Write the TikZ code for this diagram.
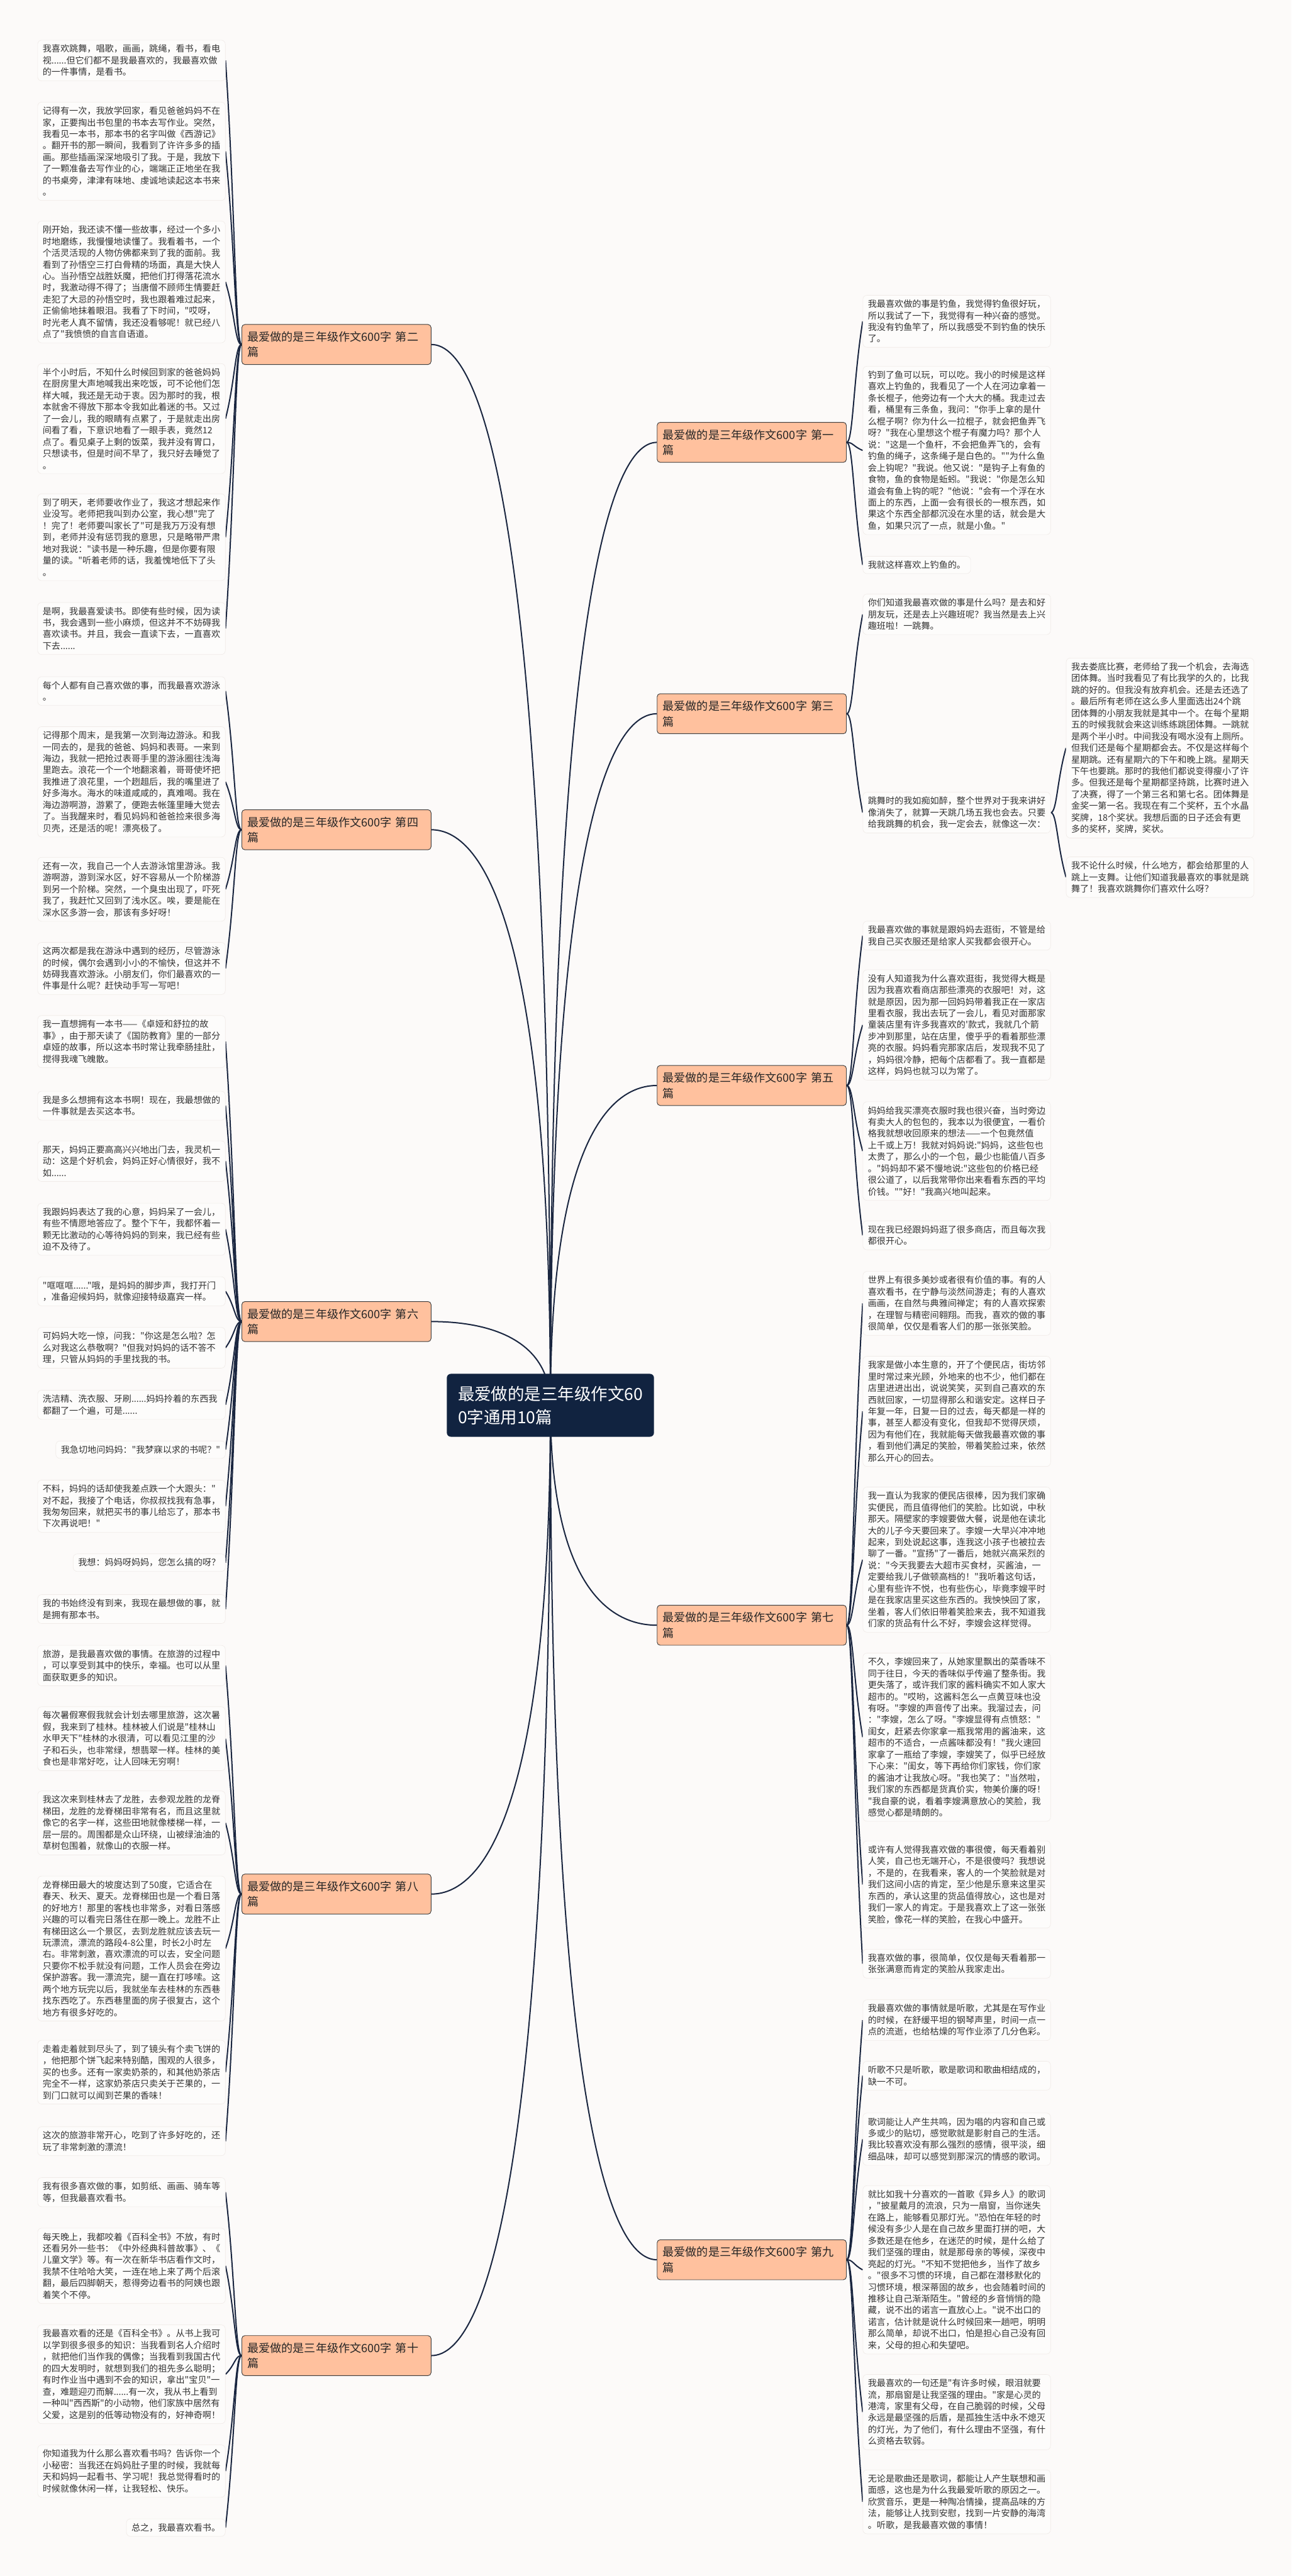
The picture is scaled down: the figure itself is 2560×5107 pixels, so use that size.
\documentclass[tikz,border=0pt]{standalone}
\usepackage{fontspec}
\newfontfamily\cjk{Noto Sans CJK SC}
\usetikzlibrary{calc,backgrounds}

\definecolor{paper}{RGB}{252,250,249}
\definecolor{notefill}{RGB}{253,252,251}
\definecolor{noteline}{RGB}{240,235,232}
\definecolor{notetext}{RGB}{51,51,51}
\definecolor{peach}{RGB}{255,193,158}
\definecolor{navy}{RGB}{17,35,64}
\definecolor{wire}{RGB}{26,38,64}

\begin{document}
\begin{tikzpicture}[x=0.5pt,y=-0.5pt,
  centre/.style={fill=navy,text=white,rounded corners=4pt,align=left,
    inner xsep=11pt,inner ysep=12pt,font=\cjk\fontsize{16.5pt}{23pt}\selectfont},
  topic/.style={draw=black!75,line width=0.6pt,fill=peach,rounded corners=3pt,
    text width=176.5pt,align=left,inner xsep=5.5pt,inner ysep=7pt,text=black!85,
    font=\cjk\fontsize{11.3pt}{15.2pt}\selectfont},
  shortnote/.style={draw=noteline,fill=notefill,rounded corners=4pt,align=left,
    inner xsep=5pt,inner ysep=4.5pt,text=notetext,
    font=\cjk\fontsize{8.8pt}{11.5pt}\selectfont},
  note/.style={shortnote,text width=176pt},
  link/.style={draw=wire,line width=1.25pt},
  trunk/.style={to path={let \p1=(\tikztostart),\p2=(\tikztotarget) in
    .. controls (\x1,{\y2+0.2*(\y1-\y2)}) and ({\x2+0.47*(\x1-\x2)},\y2) .. (\tikztotarget)}},
  twig/.style={to path={let \p1=(\tikztostart),\p2=(\tikztotarget) in
    .. controls ({\x2+0.6*(\x1-\x2)},\y1) and ({\x2+0.6*(\x1-\x2)},{\y2+0.5*(\y1-\y2)}) .. (\tikztotarget)}}]

  \useasboundingbox (0,0) rectangle (2560,5107);

  % centre and the ten essays
  \node[centre] (mid) at (1091,2786) {最爱做的是三年级作文60\\0字通用10篇};

  \node[topic,anchor=west] (p1) at (1302,877) {最爱做的是三年级作文600字 第一\\篇};
  \node[topic,anchor=east] (p2) at (855,683) {最爱做的是三年级作文600字 第二\\篇};
  \node[topic,anchor=west] (p3) at (1302,1415) {最爱做的是三年级作文600字 第三\\篇};
  \node[topic,anchor=east] (p4) at (855,1645) {最爱做的是三年级作文600字 第四\\篇};
  \node[topic,anchor=west] (p5) at (1302,2152) {最爱做的是三年级作文600字 第五\\篇};
  \node[topic,anchor=east] (p6) at (855,2620) {最爱做的是三年级作文600字 第六\\篇};
  \node[topic,anchor=west] (p7) at (1302,3222) {最爱做的是三年级作文600字 第七\\篇};
  \node[topic,anchor=east] (p8) at (855,3755) {最爱做的是三年级作文600字 第八\\篇};
  \node[topic,anchor=west] (p9) at (1302,4480) {最爱做的是三年级作文600字 第九\\篇};
  \node[topic,anchor=east] (p10) at (855,4670) {最爱做的是三年级作文600字 第十\\篇};

  % left column
  \node[note,anchor=east] (l1) at (447,120) {我喜欢跳舞，唱歌，画画，跳绳，看书，看电\\视......但它们都不是我最喜欢的，我最喜欢做\\的一件事情，是看书。};
  \node[note,anchor=east] (l2) at (447,300) {记得有一次，我放学回家，看见爸爸妈妈不在\\家，正要掏出书包里的书本去写作业。突然，\\我看见一本书，那本书的名字叫做《西游记》\\。翻开书的那一瞬间，我看到了许许多多的插\\画。那些插画深深地吸引了我。于是，我放下\\了一颗准备去写作业的心，端端正正地坐在我\\的书桌旁，津津有味地、虔诚地读起这本书来\\。};
  \node[note,anchor=east] (l3) at (447,559) {刚开始，我还读不懂一些故事，经过一个多小\\时地磨练，我慢慢地读懂了。我看着书，一个\\个活灵活现的人物仿佛都来到了我的面前。我\\看到了孙悟空三打白骨精的场面，真是大快人\\心。当孙悟空战胜妖魔，把他们打得落花流水\\时，我激动得不得了；当唐僧不顾师生情要赶\\走犯了大忌的孙悟空时，我也跟着难过起来，\\正偷偷地抹着眼泪。我看了下时间，"哎呀，\\时光老人真不留情，我还没看够呢！就已经八\\点了"我愤愤的自言自语道。};
  \node[note,anchor=east] (l4) at (447,830) {半个小时后，不知什么时候回到家的爸爸妈妈\\在厨房里大声地喊我出来吃饭，可不论他们怎\\样大喊，我还是无动于衷。因为那时的我，根\\本就舍不得放下那本令我如此着迷的书。又过\\了一会儿，我的眼睛有点累了，于是就走出房\\间看了看，下意识地看了一眼手表，竟然12\\点了。看见桌子上剩的饭菜，我并没有胃口，\\只想读书，但是时间不早了，我只好去睡觉了\\。};
  \node[note,anchor=east] (l5) at (447,1065) {到了明天，老师要收作业了，我这才想起来作\\业没写。老师把我叫到办公室，我心想"完了\\！完了！老师要叫家长了"可是我万万没有想\\到，老师并没有惩罚我的意思，只是略带严肃\\地对我说："读书是一种乐趣，但是你要有限\\量的读。"听着老师的话，我羞愧地低下了头\\。};
  \node[note,anchor=east] (l6) at (447,1246) {是啊，我最喜爱读书。即使有些时候，因为读\\书，我会遇到一些小麻烦，但这并不不妨碍我\\喜欢读书。并且，我会一直读下去，一直喜欢\\下去......};
  \node[note,anchor=east] (l7) at (447,1370) {每个人都有自己喜欢做的事，而我最喜欢游泳\\。};
  \node[note,anchor=east] (l8) at (447,1550) {记得那个周末，是我第一次到海边游泳。和我\\一同去的，是我的爸爸、妈妈和表哥。一来到\\海边，我就一把抢过表哥手里的游泳圈往浅海\\里跑去。浪花一个一个地翻滚着，哥哥使坏把\\我推进了浪花里，一个趔趄后，我的嘴里进了\\好多海水。海水的味道咸咸的，真难喝。我在\\海边游啊游，游累了，便跑去帐篷里睡大觉去\\了。当我醒来时，看见妈妈和爸爸捡来很多海\\贝壳，还是活的呢！漂亮极了。};
  \node[note,anchor=east] (l9) at (447,1763) {还有一次，我自己一个人去游泳馆里游泳。我\\游啊游，游到深水区，好不容易从一个阶梯游\\到另一个阶梯。突然，一个臭虫出现了，吓死\\我了，我赶忙又回到了浅水区。唉，要是能在\\深水区多游一会，那该有多好呀！};
  \node[note,anchor=east] (l10) at (447,1920) {这两次都是我在游泳中遇到的经历，尽管游泳\\的时候，偶尔会遇到小小的不愉快，但这并不\\妨碍我喜欢游泳。小朋友们，你们最喜欢的一\\件事是什么呢？赶快动手写一写吧！};
  \node[note,anchor=east] (l11) at (447,2065) {我一直想拥有一本书——《卓娅和舒拉的故\\事》，由于那天读了《国防教育》里的一部分\\卓娅的故事，所以这本书时常让我牵肠挂肚，\\搅得我魂飞魄散。};
  \node[note,anchor=east] (l12) at (447,2192) {我是多么想拥有这本书啊！现在，我最想做的\\一件事就是去买这本书。};
  \node[note,anchor=east] (l13) at (447,2302) {那天，妈妈正要高高兴兴地出门去，我灵机一\\动：这是个好机会，妈妈正好心情很好，我不\\如......};
  \node[note,anchor=east] (l14) at (447,2437) {我跟妈妈表达了我的心意，妈妈呆了一会儿，\\有些不情愿地答应了。整个下午，我都怀着一\\颗无比激动的心等待妈妈的到来，我已经有些\\迫不及待了。};
  \node[note,anchor=east] (l15) at (447,2560) {"哐哐哐......"哦，是妈妈的脚步声，我打开门\\，准备迎候妈妈，就像迎接特级嘉宾一样。};
  \node[note,anchor=east] (l16) at (447,2672) {可妈妈大吃一惊，问我："你这是怎么啦？怎\\么对我这么恭敬啊？"但我对妈妈的话不答不\\理，只管从妈妈的手里找我的书。};
  \node[note,anchor=east] (l17) at (447,2785) {洗洁精、洗衣服、牙刷......妈妈拎着的东西我\\都翻了一个遍，可是......};
  \node[shortnote,anchor=east] (l18) at (447,2874) {我急切地问妈妈："我梦寐以求的书呢？"};
  \node[note,anchor=east] (l19) at (447,2986) {不料，妈妈的话却使我差点跌一个大跟头："\\对不起，我接了个电话，你叔叔找我有急事，\\我匆匆回来，就把买书的事儿给忘了，那本书\\下次再说吧！"};
  \node[shortnote,anchor=east] (l20) at (447,3098) {我想：妈妈呀妈妈，您怎么搞的呀？};
  \node[note,anchor=east] (l21) at (447,3190) {我的书始终没有到来，我现在最想做的事，就\\是拥有那本书。};
  \node[note,anchor=east] (l22) at (447,3302) {旅游，是我最喜欢做的事情。在旅游的过程中\\，可以享受到其中的快乐，幸福。也可以从里\\面获取更多的知识。};
  \node[note,anchor=east] (l23) at (447,3447) {每次暑假寒假我就会计划去哪里旅游，这次暑\\假，我来到了桂林。桂林被人们说是"桂林山\\水甲天下"桂林的水很清，可以看见江里的沙\\子和石头，也非常绿，想翡翠一样。桂林的美\\食也是非常好吃，让人回味无穷啊！};
  \node[note,anchor=east] (l24) at (447,3614) {我这次来到桂林去了龙胜，去参观龙胜的龙脊\\梯田，龙胜的龙脊梯田非常有名，而且这里就\\像它的名字一样，这些田地就像楼梯一样，一\\层一层的。周围都是众山环绕，山被绿油油的\\草树包围着，就像山的衣服一样。};
  \node[note,anchor=east] (l25) at (447,3863) {龙脊梯田最大的坡度达到了50度，它适合在\\春天、秋天、夏天。龙脊梯田也是一个看日落\\的好地方！那里的客栈也非常多，对看日落感\\兴趣的可以看完日落住在那一晚上。龙胜不止\\有梯田这么一个景区，去到龙胜就应该去玩一\\玩漂流，漂流的路段4-8公里，时长2小时左\\右。非常刺激，喜欢漂流的可以去，安全问题\\只要你不松手就没有问题，工作人员会在旁边\\保护游客。我一漂流完，腿一直在打哆嗦。这\\两个地方玩完以后，我就坐车去桂林的东西巷\\找东西吃了。东西巷里面的房子很复古，这个\\地方有很多好吃的。};
  \node[note,anchor=east] (l26) at (447,4108) {走着走着就到尽头了，到了镜头有个卖飞饼的\\，他把那个饼飞起来特别酷，围观的人很多，\\买的也多。还有一家卖奶茶的，和其他奶茶店\\完全不一样，这家奶茶店只卖关于芒果的，一\\到门口就可以闻到芒果的香味！};
  \node[note,anchor=east] (l27) at (447,4245) {这次的旅游非常开心，吃到了许多好吃的，还\\玩了非常刺激的漂流！};
  \node[note,anchor=east] (l28) at (447,4346) {我有很多喜欢做的事，如剪纸、画画、骑车等\\等，但我最喜欢看书。};
  \node[note,anchor=east] (l29) at (447,4492) {每天晚上，我都咬着《百科全书》不放，有时\\还看另外一些书：《中外经典科普故事》、《\\儿童文学》等。有一次在新华书店看作文时，\\我禁不住哈哈大笑，一连在地上来了两个后滚\\翻，最后四脚朝天，惹得旁边看书的阿姨也跟\\着笑个不停。};
  \node[note,anchor=east] (l30) at (447,4707) {我最喜欢看的还是《百科全书》。从书上我可\\以学到很多很多的知识：当我看到名人介绍时\\，就把他们当作我的偶像；当我看到我国古代\\的四大发明时，就想到我们的祖先多么聪明；\\有时作业当中遇到不会的知识，拿出"宝贝"一\\查，难题迎刃而解......有一次，我从书上看到\\一种叫"西西斯"的小动物，他们家族中居然有\\父爱，这是别的低等动物没有的，好神奇啊！};
  \node[note,anchor=east] (l31) at (447,4899) {你知道我为什么那么喜欢看书吗？告诉你一个\\小秘密：当我还在妈妈肚子里的时候，我就每\\天和妈妈一起看书、学习呢！我总觉得看时的\\时候就像休闲一样，让我轻松、快乐。};
  \node[shortnote,anchor=east] (l32) at (447,5011) {总之，我最喜欢看书。};

  % right column
  \node[note,anchor=west] (r1) at (1710,637) {我最喜欢做的事是钓鱼，我觉得钓鱼很好玩，\\所以我试了一下，我觉得有一种兴奋的感觉。\\我没有钓鱼竿了，所以我感受不到钓鱼的快乐\\了。};
  \node[note,anchor=west] (r2) at (1710,893) {钓到了鱼可以玩，可以吃。我小的时候是这样\\喜欢上钓鱼的，我看见了一个人在河边拿着一\\条长棍子，他旁边有一个大大的桶。我走过去\\看，桶里有三条鱼，我问："你手上拿的是什\\么棍子啊？你为什么一拉棍子，就会把鱼弄飞\\呀？"我在心里想这个棍子有魔力吗？那个人\\说："这是一个鱼杆，不会把鱼弄飞的，会有\\钓鱼的绳子，这条绳子是白色的。""为什么鱼\\会上钩呢？"我说。他又说："是钩子上有鱼的\\食物，鱼的食物是蚯蚓。"我说："你是怎么知\\道会有鱼上钩的呢？"他说："会有一个浮在水\\面上的东西，上面一会有很长的一根东西，如\\果这个东西全部都沉没在水里的话，就会是大\\鱼，如果只沉了一点，就是小鱼。"};
  \node[shortnote,anchor=west] (r3) at (1710,1120) {我就这样喜欢上钓鱼的。};
  \node[note,anchor=west] (r4) at (1710,1218) {你们知道我最喜欢做的事是什么吗？是去和好\\朋友玩，还是去上兴趣班呢？我当然是去上兴\\趣班啦！一跳舞。};
  \node[note,anchor=west] (r5) at (1710,1611) {跳舞时的我如痴如醉，整个世界对于我来讲好\\像消失了，就算一天跳几场五我也会去。只要\\给我跳舞的机会，我一定会去，就像这一次：};
  \node[note,anchor=west] (f1) at (2113,1483) {我去娄底比赛，老师给了我一个机会，去海选\\团体舞。当时我看见了有比我学的久的，比我\\跳的好的。但我没有放弃机会。还是去还选了\\。最后所有老师在这么多人里面选出24个跳\\团体舞的小朋友我就是其中一个。在每个星期\\五的时候我就会来这训练练跳团体舞。一跳就\\是两个半小时。中间我没有喝水没有上厕所。\\但我们还是每个星期都会去。不仅是这样每个\\星期跳。还有星期六的下午和晚上跳。星期天\\下午也要跳。那时的我他们都说变得瘦小了许\\多。但我还是每个星期都坚持跳，比赛时进入\\了决赛，得了一个第三名和第七名。团体舞是\\金奖一第一名。我现在有二个奖杯，五个水晶\\奖牌，18个奖状。我想后面的日子还会有更\\多的奖杯，奖牌，奖状。};
  \node[note,anchor=west] (f2) at (2113,1739) {我不论什么时候，什么地方，都会给那里的人\\跳上一支舞。让他们知道我最喜欢的事就是跳\\舞了！我喜欢跳舞你们喜欢什么呀？};
  \node[note,anchor=west] (r6) at (1710,1855) {我最喜欢做的事就是跟妈妈去逛街，不管是给\\我自己买衣服还是给家人买我都会很开心。};
  \node[note,anchor=west] (r7) at (1710,2032) {没有人知道我为什么喜欢逛街，我觉得大概是\\因为我喜欢看商店那些漂亮的衣服吧！对，这\\就是原因，因为那一回妈妈带着我正在一家店\\里看衣服，我出去玩了一会儿，看见对面那家\\童装店里有许多我喜欢的'款式，我就几个箭\\步冲到那里，站在店里，傻乎乎的看着那些漂\\亮的衣服。妈妈看完那家店后，发现我不见了\\，妈妈很冷静，把每个店都看了。我一直都是\\这样，妈妈也就习以为常了。};
  \node[note,anchor=west] (r8) at (1710,2282) {妈妈给我买漂亮衣服时我也很兴奋，当时旁边\\有卖大人的包包的，我本以为很便宜，一看价\\格我就想收回原来的想法——一个包竟然值\\上千或上万！我就对妈妈说:"妈妈，这些包也\\太贵了，那么小的一个包，最少也能值八百多\\。"妈妈却不紧不慢地说:"这些包的价格已经\\很公道了，以后我常带你出来看看东西的平均\\价钱。""好！"我高兴地叫起来。};
  \node[note,anchor=west] (r9) at (1710,2449) {现在我已经跟妈妈逛了很多商店，而且每次我\\都很开心。};
  \node[note,anchor=west] (r10) at (1710,2584) {世界上有很多美妙或者很有价值的事。有的人\\喜欢看书，在宁静与淡然间游走；有的人喜欢\\画画，在自然与典雅间禅定；有的人喜欢探索\\，在理智与精密间翱翔。而我，喜欢的做的事\\很简单，仅仅是看客人们的那一张张笑脸。};
  \node[note,anchor=west] (r11) at (1710,2798) {我家是做小本生意的，开了个便民店，街坊邻\\里时常过来光顾，外地来的也不少，他们都在\\店里进进出出，说说笑笑，买到自己喜欢的东\\西就回家，一切显得那么和谐安定。这样日子\\年复一年，日复一日的过去，每天都是一样的\\事，甚至人都没有变化，但我却不觉得厌烦，\\因为有他们在，我就能每天做我最喜欢做的事\\，看到他们满足的笑脸，带着笑脸过来，依然\\那么开心的回去。};
  \node[note,anchor=west] (r12) at (1710,3092) {我一直认为我家的便民店很棒，因为我们家确\\实便民，而且值得他们的笑脸。比如说，中秋\\那天。隔壁家的李嫂要做大餐，说是他在读北\\大的儿子今天要回来了。李嫂一大早兴冲冲地\\起来，到处说起这事，连我这小孩子也被拉去\\聊了一番。"宣扬"了一番后，她就兴高采烈的\\说："今天我要去大超市买食材，买酱油，一\\定要给我儿子做顿高档的！"我听着这句话，\\心里有些许不悦，也有些伤心，毕竟李嫂平时\\是在我家店里买这些东西的。我怏怏回了家，\\坐着，客人们依旧带着笑脸来去，我不知道我\\们家的货品有什么不好，李嫂会这样觉得。};
  \node[note,anchor=west] (r13) at (1710,3444) {不久，李嫂回来了，从她家里飘出的菜香味不\\同于往日，今天的香味似乎传遍了整条街。我\\更失落了，或许我们家的酱料确实不如人家大\\超市的。"哎哟，这酱料怎么一点黄豆味也没\\有呀。"李嫂的声音传了出来。我溜过去，问\\："李嫂，怎么了呀。"李嫂显得有点愤怒："\\闺女，赶紧去你家拿一瓶我常用的酱油来，这\\超市的不适合，一点酱味都没有！"我火速回\\家拿了一瓶给了李嫂，李嫂笑了，似乎已经放\\下心来："闺女，等下再给你们家钱，你们家\\的酱油才让我放心呀。"我也笑了："当然啦，\\我们家的东西都是货真价实，物美价廉的呀！\\"我自豪的说，看着李嫂满意放心的笑脸，我\\感觉心都是晴朗的。};
  \node[note,anchor=west] (r14) at (1710,3736) {或许有人觉得我喜欢做的事很傻，每天看着别\\人笑，自己也无端开心，不是很傻吗？我想说\\，不是的，在我看来，客人的一个笑脸就是对\\我们这间小店的肯定，至少他是乐意来这里买\\东西的，承认这里的货品值得放心，这也是对\\我们一家人的肯定。于是我喜欢上了这一张张\\笑脸，像花一样的笑脸，在我心中盛开。};
  \node[note,anchor=west] (r15) at (1710,3893) {我喜欢做的事，很简单，仅仅是每天看着那一\\张张满意而肯定的笑脸从我家走出。};
  \node[note,anchor=west] (r16) at (1710,4005) {我最喜欢做的事情就是听歌，尤其是在写作业\\的时候，在舒缓平坦的钢琴声里，时间一点一\\点的流逝，也给枯燥的写作业添了几分色彩。};
  \node[note,anchor=west] (r17) at (1710,4115) {听歌不只是听歌，歌是歌词和歌曲相结成的，\\缺一不可。};
  \node[note,anchor=west] (r18) at (1710,4241) {歌词能让人产生共鸣，因为唱的内容和自己或\\多或少的贴切，感觉歌就是影射自己的生活。\\我比较喜欢没有那么强烈的感情，很平淡，细\\细品味，却可以感觉到那深沉的情感的歌词。};
  \node[note,anchor=west] (r19) at (1710,4500) {就比如我十分喜欢的一首歌《异乡人》的歌词\\，"披星戴月的流浪，只为一扇窗，当你迷失\\在路上，能够看见那灯光。"恐怕在年轻的时\\候没有多少人是在自己故乡里面打拼的吧，大\\多数还是在他乡，在迷茫的时候，是什么给了\\我们坚强的理由，就是那母亲的等候，深夜中\\亮起的灯光。"不知不觉把他乡，当作了故乡\\。"很多不习惯的环境，自己都在潜移默化的\\习惯环境，根深蒂固的故乡，也会随着时间的\\推移让自己渐渐陌生。"曾经的乡音悄悄的隐\\藏，说不出的诺言一直放心上。"说不出口的\\诺言，估计就是说什么时候回来一趟吧，明明\\那么简单，却说不出口，怕是担心自己没有回\\来，父母的担心和失望吧。};
  \node[note,anchor=west] (r20) at (1710,4782) {我最喜欢的一句还是"有许多时候，眼泪就要\\流，那扇窗是让我坚强的理由。"家是心灵的\\港湾，家里有父母，在自己脆弱的时候，父母\\永远是最坚强的后盾，是孤独生活中永不熄灭\\的灯光，为了他们，有什么理由不坚强，有什\\么资格去软弱。};
  \node[note,anchor=west] (r21) at (1710,4960) {无论是歌曲还是歌词，都能让人产生联想和画\\面感，这也是为什么我最爱听歌的原因之一。\\欣赏音乐，更是一种陶冶情操，提高品味的方\\法，能够让人找到安慰，找到一片安静的海湾\\。听歌，是我最喜欢做的事情！};

  % paper and connectors behind the boxes
  \begin{scope}[on background layer]
    \fill[paper] (0,0) rectangle (2560,5107);
    \foreach \k in {2,4,6,8,10} \draw[link] (mid.center) to[trunk] (p\k.east);
    \foreach \k in {1,3,5,7,9} \draw[link] (mid.center) to[trunk] (p\k.west);
    \foreach \k/\first/\last in {2/1/6,4/7/10,6/11/21,8/22/27,10/28/32}
      \foreach \j in {\first,...,\last} \draw[link] (p\k.west) to[twig] (l\j.east);
    \foreach \k/\first/\last in {1/1/3,3/4/5,5/6/9,7/10/15,9/16/21}
      \foreach \j in {\first,...,\last} \draw[link] (p\k.east) to[twig] (r\j.west);
    \foreach \j in {1,2} \draw[link] (r5.east) to[twig] (f\j.west);
  \end{scope}
\end{tikzpicture}
\end{document}
